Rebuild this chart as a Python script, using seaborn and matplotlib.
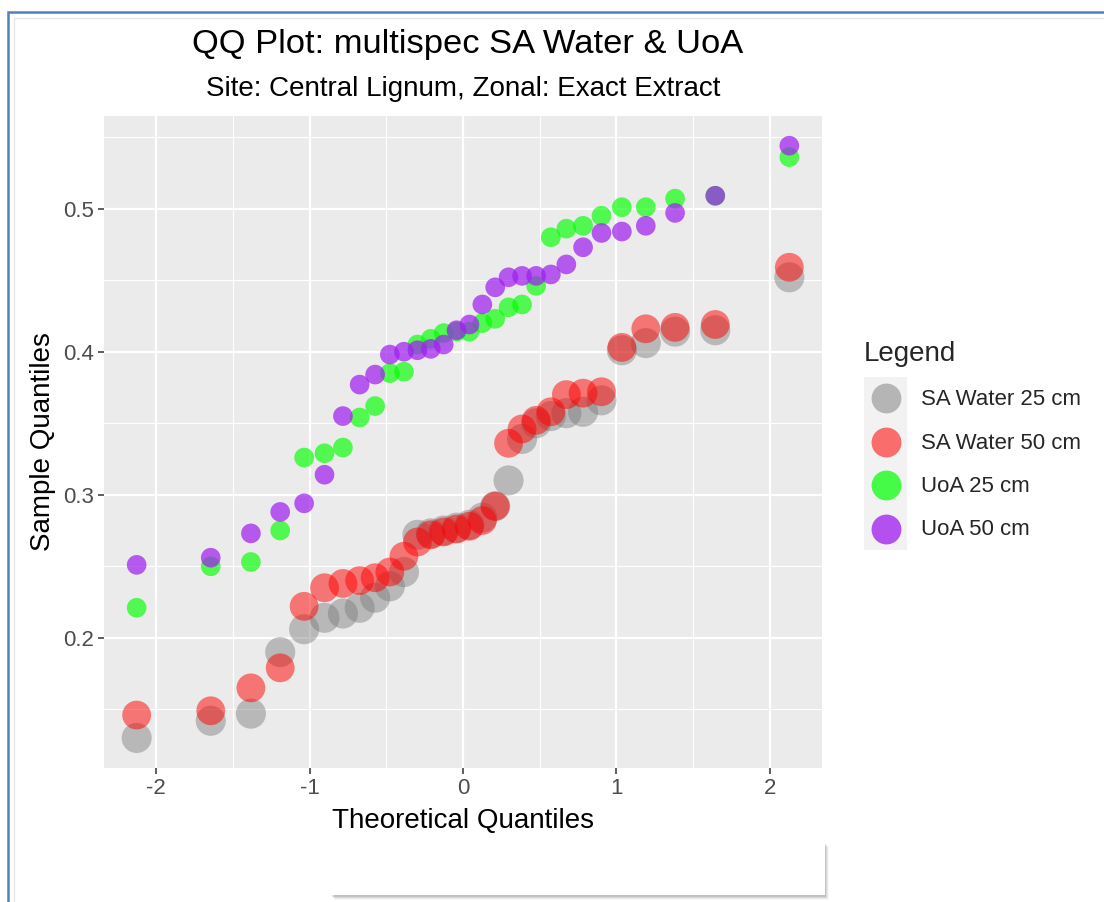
import numpy as np
import pandas as pd
import matplotlib
matplotlib.use("Agg")
import matplotlib.pyplot as plt
import seaborn as sns
from matplotlib.lines import Line2D
from matplotlib.patches import Rectangle
from matplotlib.legend_handler import HandlerBase

# ---------------- data ----------------
theoretical = [-2.128, -1.645, -1.383, -1.192, -1.036, -0.903, -0.783, -0.674, -0.573, -0.477,
               -0.385, -0.297, -0.210, -0.126, -0.042, 0.042, 0.126, 0.210, 0.297, 0.385,
               0.477, 0.573, 0.674, 0.783, 0.903, 1.036, 1.192, 1.383, 1.645, 2.128]

sa_water_25 = [0.130, 0.142, 0.147, 0.190, 0.206, 0.214, 0.217, 0.221, 0.228, 0.236,
               0.246, 0.272, 0.273, 0.275, 0.277, 0.279, 0.284, 0.292, 0.310, 0.339,
               0.350, 0.355, 0.357, 0.358, 0.366, 0.401, 0.406, 0.414, 0.415, 0.452]

sa_water_50 = [0.146, 0.149, 0.165, 0.179, 0.222, 0.235, 0.238, 0.240, 0.242, 0.246,
               0.257, 0.267, 0.272, 0.274, 0.276, 0.278, 0.282, 0.292, 0.336, 0.346,
               0.352, 0.358, 0.370, 0.371, 0.372, 0.403, 0.416, 0.417, 0.419, 0.459]

uoa_25 = [0.221, 0.250, 0.253, 0.275, 0.326, 0.329, 0.333, 0.354, 0.362, 0.385,
          0.386, 0.405, 0.409, 0.413, 0.414, 0.414, 0.420, 0.423, 0.431, 0.433,
          0.446, 0.480, 0.486, 0.488, 0.495, 0.501, 0.501, 0.507, 0.509, 0.536]

uoa_50 = [0.251, 0.256, 0.273, 0.288, 0.294, 0.314, 0.355, 0.377, 0.384, 0.398,
          0.400, 0.401, 0.402, 0.405, 0.415, 0.419, 0.433, 0.445, 0.452, 0.453,
          0.453, 0.454, 0.461, 0.473, 0.483, 0.484, 0.488, 0.497, 0.509, 0.544]

series_names = ["SA Water 25 cm", "SA Water 50 cm", "UoA 25 cm", "UoA 50 cm"]
series_values = [sa_water_25, sa_water_50, uoa_25, uoa_50]

x_ticks = [-2, -1, 0, 1, 2]
y_ticks = [0.2, 0.3, 0.4, 0.5]

title = "QQ Plot: multispec SA Water & UoA"
subtitle = "Site: Central Lignum, Zonal: Exact Extract"

# ---------------- styles ----------------
colors = {"SA Water 25 cm": "#7a7a7a", "SA Water 50 cm": "#ff0000",
          "UoA 25 cm": "#00ff00", "UoA 50 cm": "#a020f0"}
alphas = {"SA Water 25 cm": 0.45, "SA Water 50 cm": 0.5,
          "UoA 25 cm": 0.66, "UoA 50 cm": 0.72}
sizes = {"SA Water 25 cm": 470, "SA Water 50 cm": 430,
         "UoA 25 cm": 200, "UoA 50 cm": 200}

df = pd.concat([pd.DataFrame({"Theoretical": theoretical, "Sample": v, "Series": n})
                for n, v in zip(series_names, series_values)], ignore_index=True)

sns.set_theme(style="darkgrid")
plt.rcParams["font.family"] = ["Liberation Sans", "DejaVu Sans"]

W, H = 1104, 902
fig = plt.figure(figsize=(W / 100, H / 100), dpi=100)
fig.patch.set_facecolor("white")

left, right, top, bottom = 104, 822, 115.5, 768
ax = fig.add_axes([left / W, 1 - bottom / H, (right - left) / W, (bottom - top) / H])
ax.set_facecolor("#EBEBEB")

for i, name in enumerate(series_names):
    sns.scatterplot(data=df[df["Series"] == name], x="Theoretical", y="Sample",
                    color=colors[name], alpha=alphas[name], s=sizes[name],
                    edgecolor="none", linewidth=0, ax=ax, legend=False, zorder=3 + i)

ax.set_xlim(-2.341, 2.341)
ax.set_ylim(0.1090, 0.5651)
ax.set_xticks(x_ticks)
ax.set_xticklabels([str(t) for t in x_ticks])
ax.set_yticks(y_ticks)
ax.set_yticklabels([f"{t:.1f}" for t in y_ticks])
ax.set_xticks([-1.5, -0.5, 0.5, 1.5], minor=True)
ax.set_yticks([0.15, 0.25, 0.35, 0.45, 0.55], minor=True)
ax.grid(which="major", color="white", linewidth=1.6)
ax.grid(which="minor", color="white", linewidth=0.8)
ax.set_axisbelow(True)
for s in ax.spines.values():
    s.set_visible(False)
ax.tick_params(which="major", length=4, width=1.1, color="#333333",
               labelsize=16, labelcolor="#4D4D4D", pad=3,
               bottom=True, left=True)
ax.tick_params(which="minor", length=0)

ax.set_xlabel("Theoretical Quantiles", fontsize=20, color="black", labelpad=7)
ax.set_ylabel("Sample Quantiles", fontsize=20, color="black", labelpad=5)

fig.text(468 / W, 1 - 45 / H, title, ha="center", va="center",
         fontsize=24.8, color="black")
fig.text((left + right) / 2 / W, 1 - 89 / H, subtitle, ha="center", va="center",
         fontsize=20, color="black")


# ---------------- legend ----------------
class KeyHandler(HandlerBase):
    def create_artists(self, legend, orig_handle, xdescent, ydescent, width, height,
                       fontsize, trans):
        bg = Rectangle((-xdescent, -ydescent), width, height, facecolor="#F2F2F2",
                       edgecolor="none", transform=trans)
        cx = -xdescent + width / 2
        cy = -ydescent + height / 2
        mk = Line2D([cx], [cy], marker="o", linestyle="none",
                    markersize=orig_handle.get_markersize(),
                    markerfacecolor=orig_handle.get_markerfacecolor(),
                    markeredgecolor="none", alpha=orig_handle.get_alpha(),
                    transform=trans)
        return [bg, mk]


handles = []
for name in series_names:
    handles.append(Line2D([], [], marker="o", linestyle="none", markersize=21.5,
                          markerfacecolor=colors[name], markeredgecolor="none",
                          alpha=min(1.0, alphas[name] + 0.05)))
leg = fig.legend(handles, series_names, title="Legend", loc="upper left",
                 bbox_to_anchor=(864 / W, 1 - 341 / H), frameon=False,
                 fontsize=16, title_fontsize=20, labelspacing=0.0,
                 handlelength=1.95, handleheight=2.63, handletextpad=0.6,
                 borderpad=0, borderaxespad=0, alignment="left",
                 handler_map={Line2D: KeyHandler()})
try:
    leg._legend_box.sep = 7
except Exception:
    pass

# ---------------- decorations (screenshot frame and box) ----------------
fig.patches.append(Rectangle((8 / W, -0.2), 1.3, 1 - 12 / H + 0.2, transform=fig.transFigure,
                             fill=False, edgecolor="#4F81BD", linewidth=1.8, zorder=10))
fig.patches.append(Rectangle((14 / W, -0.2), 1.3, 1 - 18 / H + 0.2, transform=fig.transFigure,
                             fill=False, edgecolor="#E6E6E6", linewidth=1.0, zorder=10))
for k, a in enumerate([0.10, 0.07, 0.05, 0.03]):
    off = k + 1
    fig.patches.append(Rectangle(((332 - 1 + off) / W, 1 - (895 + off + 1) / H),
                                 (493 + 1) / W, (52 + 1) / H, transform=fig.transFigure,
                                 facecolor="black", alpha=a, edgecolor="none", zorder=8))
fig.patches.append(Rectangle((332 / W, 1 - 895 / H), 493 / W, 52 / H, transform=fig.transFigure,
                             facecolor="white", edgecolor="none", zorder=9))

fig.savefig("out.png", dpi=100, facecolor="white")
